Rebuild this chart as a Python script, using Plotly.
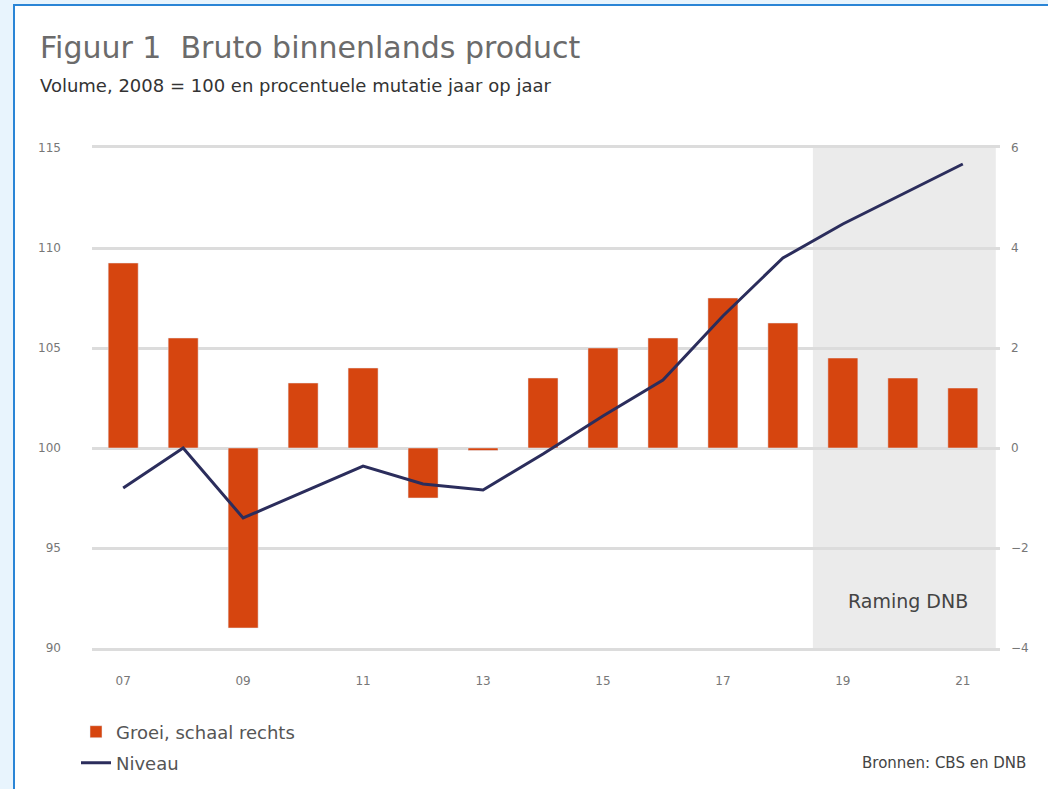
import plotly.graph_objects as go

# ---- data ----
years = list(range(2007, 2022))
groei = [3.7, 2.2, -3.6, 1.3, 1.6, -1.0, -0.05, 1.4, 2.0, 2.2, 3.0, 2.5, 1.8, 1.4, 1.2]
niveau = [98.0, 100.0, 96.5, 97.8, 99.1, 98.2, 97.9, 99.7, 101.6, 103.4, 106.6, 109.5, 111.2, 112.7, 114.2]
xtick_vals = [2007, 2009, 2011, 2013, 2015, 2017, 2019, 2021]
xtick_text = ["07", "09", "11", "13", "15", "17", "19", "21"]
left_ticks = [90, 95, 100, 105, 110, 115]
right_ticks = [-4, -2, 0, 2, 4, 6]

W, H = 1048, 789
L, R, T, B = 92, 1000, 148, 648  # plot area in page px
def px(x):
    return (x - L) / (R - L)
def py(y):
    return (B - y) / (B - T)

FONT = "DejaVu Sans"
BAR = "#d6450f"
LINE = "#2b2d5c"
GRID = "#dcdcdc"

fig = go.Figure()
fig.add_trace(go.Bar(x=years, y=groei, name="Groei, schaal rechts", marker_color=BAR,
                     width=0.5, yaxis="y", legend="legend"))
fig.add_trace(go.Scatter(x=years, y=niveau, name="Niveau", mode="lines",
                         line=dict(color=LINE, width=3), yaxis="y2", legend="legend2"))

fig.update_layout(
    width=W, height=H,
    margin=dict(l=L, r=W - R, t=T, b=H - B, pad=0, autoexpand=False),
    paper_bgcolor="#e8f4fd", plot_bgcolor="rgba(0,0,0,0)",
    font=dict(family=FONT, color="#555"),
    showlegend=True,
    xaxis=dict(range=[2006.48, 2021.62], tickvals=xtick_vals, ticktext=xtick_text,
               showgrid=False, zeroline=False, showline=True, mirror=True,
               linecolor=GRID, linewidth=3, ticks="",
               tickfont=dict(size=12, color="#777"), ticklabelstandoff=20),
    yaxis=dict(side="right", range=[-4, 6], tickvals=right_ticks, showgrid=True,
               gridcolor=GRID, gridwidth=3, zeroline=False, showline=False,
               tickfont=dict(size=12, color="#777"), ticklabelstandoff=10),
    yaxis2=dict(side="left", overlaying="y", range=[90, 115], tickvals=left_ticks,
                showgrid=False, zeroline=False, showline=False,
                tickfont=dict(size=12, color="#777"), ticklabelstandoff=30),
    legend=dict(x=px(76), y=py(732), xanchor="left", yanchor="middle",
                font=dict(size=18, color="#555"), bgcolor="rgba(0,0,0,0)"),
    legend2=dict(x=px(76), y=py(763), xanchor="left", yanchor="middle",
                 font=dict(size=18, color="#555"), bgcolor="rgba(0,0,0,0)"),
)

# white card with blue frame
fig.add_shape(type="rect", xref="paper", yref="paper", x0=px(14), x1=px(1070),
              y0=py(810), y1=py(5), fillcolor="white",
              line=dict(color="#2a85d6", width=2), layer="below")
# forecast shading
fig.add_shape(type="rect", xref="x", yref="paper", x0=2018.5, x1=2021.55, y0=0, y1=1,
              fillcolor="#ebebeb", line_width=0, layer="below")
fig.add_annotation(x=2020.08, y=py(601), xref="x", yref="paper", yanchor="middle",
                   text="Raming DNB", showarrow=False, font=dict(size=19, color="#444"))

# titles
fig.add_annotation(x=px(38), y=py(47), xref="paper", yref="paper", xanchor="left",
                   yanchor="middle", showarrow=False, text="Figuur 1  Bruto binnenlands product",
                   font=dict(size=30, color="#6b6b6b"))
fig.add_annotation(x=px(38), y=py(85), xref="paper", yref="paper", xanchor="left",
                   yanchor="middle", showarrow=False,
                   text="Volume, 2008 = 100 en procentuele mutatie jaar op jaar",
                   font=dict(size=18, color="#333"))
fig.add_annotation(x=px(1028), y=py(763), xref="paper", yref="paper", xanchor="right",
                   yanchor="middle", showarrow=False, text="Bronnen: CBS en DNB",
                   font=dict(size=15, color="#444"))

fig.write_html("out.html", config={"displayModeBar": False},
               post_script="document.body.style.margin='0';document.body.style.overflow='hidden';")
